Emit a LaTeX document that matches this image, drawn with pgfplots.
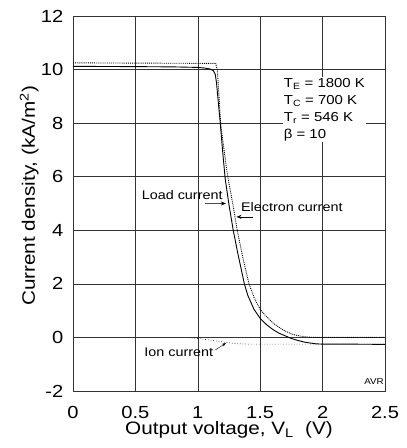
\documentclass[border=0pt]{standalone}
\usepackage{pgfplots}
\pgfplotsset{compat=1.18}
\usepackage{fontspec}
\setmainfont[FakeStretch=1.15]{Liberation Sans}
\usetikzlibrary{arrows.meta}

\begin{document}
\begin{tikzpicture}
  \begin{axis}[
    name=ax,
    scale only axis,
    width=312pt, height=375pt,
    xmin=0, xmax=2.5, ymin=-2, ymax=12,
    xtick={0,0.5,1,1.5,2,2.5},
    ytick={-2,0,2,4,6,8,10,12},
    /pgf/number format/assume math mode=true,
    grid=major,
    major grid style={black!80, line width=0.6pt},
    axis line style={black!80, line width=0.8pt},
    tick style={draw=none},
    tick label style={font=\fontsize{17.5}{20}\selectfont, inner sep=0pt},
    xticklabel style={anchor=base, yshift=-27pt},
    yticklabel style={anchor=east, xshift=-9.5pt},
    xlabel={Output voltage, V\textsubscript{L}\ \ (V)},
    ylabel={Current density, (kA/m\textsuperscript{2})},
    label style={font=\fontsize{18}{20}\selectfont, inner sep=0pt},
    xlabel style={at={(axis description cs:0.5,-0.1155)}, anchor=base},
    ylabel style={at={(axis description cs:-0.122,0.52)}, anchor=base},
    clip=false
  ]
    % load current
    \addplot [black, line width=0.9pt] coordinates {
      (0,10.12) (0.5,10.11) (0.8,10.1) (1.0,10.08) (1.05,10.06) (1.1,10.02)
      (1.125,9.96) (1.14,9.82) (1.15,9.5) (1.16,9.0) (1.18,8.0) (1.2,6.9)
      (1.22,5.9) (1.25,4.95) (1.284,4.0) (1.32,3.15) (1.35,2.5) (1.373,2.0)
      (1.4,1.58) (1.45,1.05) (1.5,0.71) (1.55,0.48) (1.6,0.30) (1.65,0.16)
      (1.7,0.06) (1.75,-0.04) (1.8,-0.11) (1.85,-0.17) (1.9,-0.21)
      (1.95,-0.24) (2.0,-0.25) (2.2,-0.25) (2.5,-0.26)
    };
    % electron current
    \addplot [black, densely dotted, line width=0.9pt] coordinates {
      (0,10.25) (1.143,10.23) (1.157,9.97) (1.183,8.0) (1.21,7.0) (1.24,6.0)
      (1.28,5.0) (1.316,4.0) (1.36,3.0) (1.41,2.0) (1.45,1.5) (1.5,1.04)
      (1.55,0.78) (1.6,0.55) (1.65,0.38) (1.7,0.24) (1.75,0.13) (1.8,0.07)
      (1.85,0.03) (1.9,0.01) (1.95,0) (2.5,0)
    };
    % ion current
    \addplot [black!80, dotted, line width=0.7pt] coordinates {
      (0,0) (0.9,0) (1.0,-0.04) (1.1,-0.1) (1.2,-0.17) (1.3,-0.23)
      (1.4,-0.25) (2.5,-0.25)
    };

    \node[anchor=north west, fill=white, inner sep=1pt, align=left,
          font=\fontsize{13}{17}\selectfont]
      at (axis cs:1.68,9.72)
      {T\textsubscript{E} = 1800 K\\T\textsubscript{C} = 700 K\\T\textsubscript{r} = 546 K\\β = 10};

    \node[anchor=east, inner sep=0pt, font=\fontsize{12.5}{15}\selectfont]
      at (axis cs:1.2,5.31) {Load current};
    \draw[black!70, line width=0.5pt, -{Stealth[black,length=5pt,width=4pt]}]
      (axis cs:1.06,5.0) -- (axis cs:1.225,5.0);

    \node[anchor=west, inner sep=0pt, font=\fontsize{12.5}{15}\selectfont]
      at (axis cs:1.345,4.87) {Electron current};
    \draw[black, line width=0.5pt, -{Stealth[length=5pt,width=4pt]}]
      (axis cs:1.445,4.5) -- (axis cs:1.31,4.5);

    \node[anchor=east, inner sep=0pt, font=\fontsize{12.5}{15}\selectfont]
      at (axis cs:1.125,-0.54) {Ion current};
    \draw[black, line width=0.4pt, -{Stealth[length=4pt,width=3pt]}]
      (axis cs:1.14,-0.47) -- (axis cs:1.225,-0.21);

    \node[anchor=east, inner sep=1pt, font=\fontsize{8.5}{10}\selectfont]
      at (axis cs:2.5,-1.63) {AVR};
  \end{axis}
  \path (ax.south west) ++(-73pt,-57pt) rectangle ([shift={(21pt,16pt)}]ax.north east);
\end{tikzpicture}
\end{document}
